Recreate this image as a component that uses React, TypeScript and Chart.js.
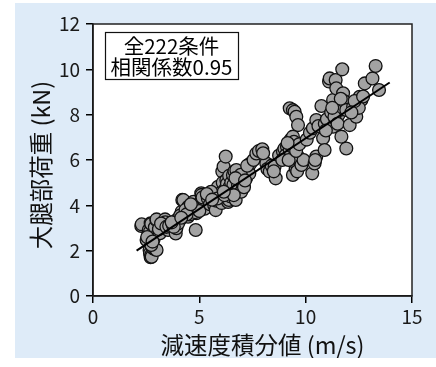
import React, { useEffect, useRef } from "react";
import { Chart, registerables } from "chart.js";

Chart.register(...registerables);

// 減速度積分値 (m/s)
const decelIntegral = [
  2.27, 2.29, 2.52, 2.62, 2.68, 2.71, 2.74, 2.66, 2.68, 2.71, 2.74, 2.76, 2.84, 2.85, 2.93, 2.99, 2.74, 2.91, 2.98, 2.99,
  3.06, 3.15, 3.29, 3.31, 3.39, 3.40, 3.53, 3.62, 2.55, 2.80, 3.10, 3.20, 3.45, 3.58,
  3.76, 3.86, 3.89, 3.92, 3.93, 4.08, 4.17, 4.20, 4.25, 4.31, 4.47, 4.48, 4.62, 4.64, 4.72, 4.83, 4.86, 4.50, 4.98, 5.02,
  5.05, 5.09, 5.11, 5.17, 5.33, 4.00, 4.10, 4.35, 4.55, 4.70, 4.80, 4.90, 5.20, 5.25, 3.80, 4.40, 5.00, 5.15,
  5.40, 5.50, 5.64, 5.70, 5.77, 5.80, 5.88, 5.95, 6.00, 6.05, 6.08, 6.10, 6.14, 6.20, 6.24, 6.25, 6.27, 6.30, 6.32, 6.35,
  6.39, 6.40, 6.43, 6.45, 6.50, 6.55, 6.58, 6.60, 6.65, 6.71, 6.74, 6.78, 6.82, 6.85, 6.90, 6.97, 7.00, 7.05, 7.10, 7.13,
  7.20, 7.29, 7.35, 7.40, 5.55, 5.85, 6.18, 6.62, 6.95, 7.25,
  7.55, 7.68, 7.80, 7.96, 8.15, 8.20, 8.31, 8.40, 8.54, 8.59, 8.50, 8.75, 8.93, 9.00, 9.12, 9.05, 8.90,
  9.25, 9.40, 9.48, 9.56, 9.64, 9.30, 9.40, 9.45, 9.33, 9.25, 9.40, 9.53, 9.50, 9.64, 9.60, 9.70, 9.80, 9.90, 9.20, 9.35,
  9.55, 9.70,
  10.05, 10.20, 10.31, 10.42, 10.50, 10.45, 10.34, 10.50, 10.60, 10.74, 10.82, 10.89, 10.90, 11.00,
  11.10, 11.13, 11.20, 11.29, 11.29, 11.36, 11.41, 11.44, 11.44, 11.50, 11.55, 11.60, 11.68, 11.72, 11.76, 11.80, 11.91, 11.91,
  11.35, 11.50, 11.65, 11.25,
  12.07, 12.23, 12.38, 12.46, 12.54, 12.62, 12.50, 12.30, 12.78, 13.14, 13.29, 13.45, 12.15, 12.70,
  3.70, 4.15, 4.60, 5.35, 5.60, 6.15, 6.70, 7.15, 8.00, 9.15, 10.95,
];

// 大腿部荷重 (kN)
const thighLoad = [
  3.09, 3.16, 2.47, 2.91, 2.84, 3.21, 3.18, 2.03, 1.88, 1.71, 1.81, 1.73, 2.10, 2.50, 2.06, 2.03, 2.25, 3.03, 3.35, 3.38,
  2.76, 2.77, 3.06, 3.13, 3.38, 3.25, 2.91, 3.13, 2.60, 2.40, 2.95, 3.20, 3.05, 3.10,
  3.13, 2.99, 2.76, 2.99, 3.35, 3.35, 3.72, 4.24, 4.23, 3.65, 3.50, 3.94, 3.87, 3.79, 4.16, 2.91, 3.65, 3.70, 3.87, 4.09,
  3.95, 4.53, 4.46, 3.94, 4.16, 3.20, 3.55, 3.80, 3.60, 3.95, 3.70, 4.00, 4.25, 3.85, 3.05, 3.60, 3.75, 4.35,
  4.30, 4.05, 4.46, 4.00, 3.79, 4.20, 4.82, 4.40, 4.55, 4.10, 5.49, 5.00, 5.71, 4.70, 6.15, 4.30, 5.12, 4.95, 4.53, 4.15,
  4.24, 5.30, 4.82, 4.40, 5.00, 4.65, 5.34, 4.90, 5.50, 4.24, 5.56, 5.10, 4.90, 4.70, 5.25, 4.60, 5.00, 5.04, 4.80, 5.41,
  5.20, 5.63, 5.40, 5.85, 4.60, 4.30, 4.45, 4.45, 5.35, 5.75,
  6.00, 6.29, 6.40, 6.47, 5.85, 5.60, 5.49, 5.75, 5.71, 5.19, 5.50, 6.20, 6.37, 6.50, 6.59, 6.20, 6.00,
  8.28, 8.20, 8.13, 7.91, 7.54, 6.90, 7.03, 6.80, 6.15, 6.45, 5.34, 5.63, 5.90, 6.15, 5.50, 6.00, 5.78, 6.00, 6.00, 6.60,
  6.40, 6.70,
  6.90, 7.20, 5.41, 5.85, 6.15, 6.00, 7.40, 7.76, 7.50, 8.38, 6.96, 6.44, 7.60, 7.80,
  9.46, 9.60, 8.10, 8.65, 7.47, 8.13, 9.53, 9.16, 7.76, 8.30, 8.00, 8.21, 7.03, 10.00, 8.94, 8.60, 8.21, 6.51,
  7.90, 7.60, 8.70, 8.30,
  7.54, 8.35, 7.91, 8.50, 8.79, 8.65, 8.30, 8.60, 9.38, 9.60, 10.15, 9.09, 8.10, 8.80,
  3.25, 3.45, 4.05, 4.50, 4.25, 4.60, 5.20, 5.10, 6.30, 6.75, 7.30,
];

// regression line end points
const fitX = [2.05, 13.95];
const fitY = [2.0, 9.42];

const annotationLines = ["全222条件", "相関係数0.95"];
const xTitle = "減速度積分値 (m/s)";
const yTitle = "大腿部荷重 (kN)";

const FONT = "'Noto Sans CJK JP', 'Noto Sans', sans-serif";

export default function App() {
  const ref = useRef<HTMLCanvasElement | null>(null);

  useEffect(() => {
    if (!ref.current) return;
    const points = decelIntegral.map((x, i) => ({ x, y: thighLoad[i] }));
    const fit = fitX.map((x, i) => ({ x, y: fitY[i] }));

    const decor = {
      id: "decor",
      beforeDraw(chart: any) {
        const { ctx, chartArea: a } = chart;
        ctx.save();
        ctx.fillStyle = "#ffffff";
        ctx.fillRect(a.left, a.top, a.right - a.left, a.bottom - a.top);
        ctx.restore();
      },
      afterDraw(chart: any) {
        const { ctx, chartArea: a } = chart;
        ctx.save();
        // frame
        ctx.strokeStyle = "#222";
        ctx.lineWidth = 1.5;
        ctx.strokeRect(a.left, a.top, a.right - a.left, a.bottom - a.top);
        // annotation box
        const bx = a.left + 12, by = a.top + 8, bw = 133, bh = 47;
        ctx.fillStyle = "#fff";
        ctx.fillRect(bx, by, bw, bh);
        ctx.strokeStyle = "#111";
        ctx.lineWidth = 1.2;
        ctx.strokeRect(bx + 0.5, by + 0.5, bw, bh);
        ctx.fillStyle = "#000";
        ctx.font = `20.5px ${FONT}`;
        ctx.textAlign = "center";
        ctx.textBaseline = "middle";
        ctx.fillText(annotationLines[0], bx + bw / 2, by + 14);
        ctx.fillText(annotationLines[1], bx + bw / 2, by + 35);
        // axis titles
        ctx.font = `23.5px ${FONT}`;
        ctx.fillStyle = "#111";
        ctx.fillText(xTitle, (a.left + a.right) / 2 + 10, 342);
        ctx.translate(26, (a.top + a.bottom) / 2 + 5);
        ctx.rotate(-Math.PI / 2);
        ctx.fillText(yTitle, 0, 0);
        ctx.restore();
      },
    };

    const chart = new Chart(ref.current, {
      type: "scatter",
      data: {
        datasets: [
          {
            type: "line",
            data: fit,
            borderColor: "#000",
            borderWidth: 2,
            pointRadius: 0,
            fill: false,
            order: 0,
          } as any,
          {
            data: points,
            backgroundColor: "#a3a3a3",
            borderColor: "#111",
            borderWidth: 1.3,
            pointRadius: 6.4,
            order: 1,
          },
        ],
      },
      options: {
        responsive: false,
        animation: false,
        layout: { padding: { left: 0, top: 21, right: 24, bottom: 0 } },
        plugins: { legend: { display: false }, tooltip: { enabled: false } },
        scales: {
          x: {
            type: "linear",
            min: 0,
            max: 15,
            afterFit(scale: any) {
              scale.height = 62;
            },
            ticks: {
              stepSize: 5,
              color: "#1a1a1a",
              font: { family: FONT, size: 19 },
              padding: 2,
              maxRotation: 0,
            },
            grid: {
              drawOnChartArea: false,
              drawTicks: true,
              tickLength: 7,
              color: "#000",
              lineWidth: 1.5,
            },
            border: { display: true, color: "#000", width: 1.5 },
          },
          y: {
            type: "linear",
            min: 0,
            max: 12,
            afterFit(scale: any) {
              scale.width = 78;
            },
            ticks: {
              stepSize: 2,
              color: "#1a1a1a",
              font: { family: FONT, size: 19 },
              padding: 6,
            },
            grid: {
              drawOnChartArea: false,
              drawTicks: true,
              tickLength: 7,
              color: "#000",
              lineWidth: 1.5,
            },
            border: { display: true, color: "#000", width: 1.5 },
          },
        },
      },
      plugins: [decor],
    });
    return () => chart.destroy();
  }, []);

  return (
    <div
      style={{
        position: "absolute",
        left: 15,
        top: 3,
        width: 421,
        height: 355,
        background: "#deebf8",
      }}
    >
      <canvas ref={ref} width={421} height={355} style={{ display: "block" }} />
    </div>
  );
}
